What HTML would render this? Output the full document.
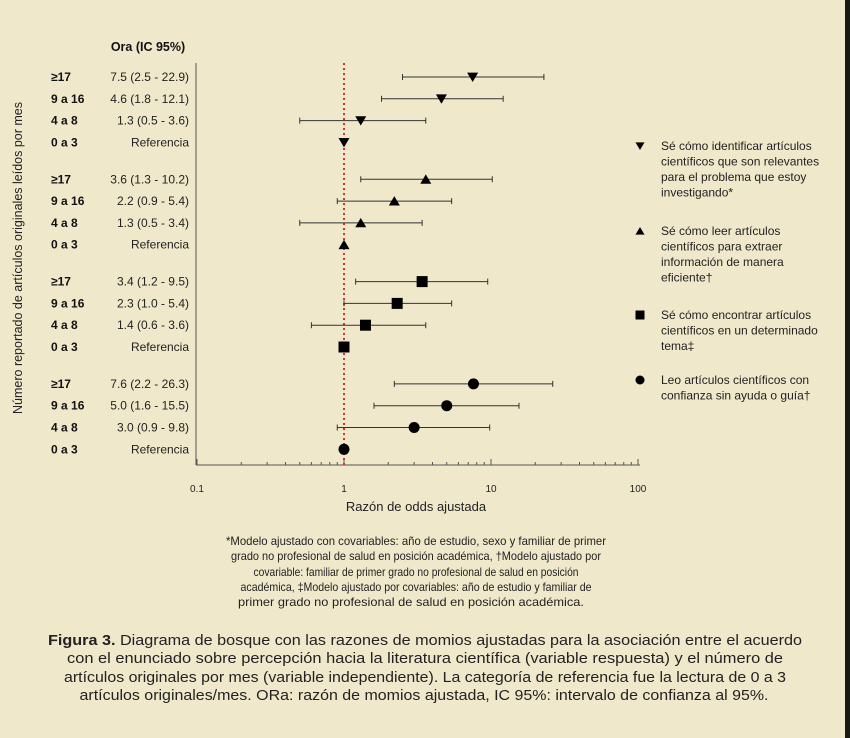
<!DOCTYPE html>
<html><head><meta charset="utf-8">
<style>
html,body{margin:0;padding:0;background:#efe8cb;}
svg{display:block;font-family:"Liberation Sans",Arial,sans-serif;}
</style></head>
<body>
<svg id="chart" width="850" height="738" viewBox="0 0 850 738">
<rect x="0" y="0" width="850" height="738" fill="#efe8cb"/>
<rect x="845" y="0" width="5" height="738" fill="#1a1a14"/>
<text x="148" y="51" font-size="12.5" font-weight="bold" text-anchor="middle" fill="#111">Ora (IC 95%)</text>
<text transform="translate(22,258) rotate(-90)" font-size="12.5" text-anchor="middle" fill="#222">Número reportado de artículos originales leídos por mes</text>
<g id="plot"></g>
<g id="legend"></g>
<g font-size="12" fill="#222" text-anchor="middle">
<text x="416" y="545" textLength="380" lengthAdjust="spacingAndGlyphs">*Modelo ajustado con covariables: año de estudio, sexo y familiar de primer</text>
<text x="416" y="560" textLength="370" lengthAdjust="spacingAndGlyphs">grado no profesional de salud en posición académica, †Modelo ajustado por</text>
<text x="416" y="576" textLength="325" lengthAdjust="spacingAndGlyphs">covariable: familiar de primer grado no profesional de salud en posición</text>
<text x="416" y="591" textLength="351" lengthAdjust="spacingAndGlyphs">académica, ‡Modelo ajustado por covariables: año de estudio y familiar de</text>
<text x="411" y="606" textLength="346" lengthAdjust="spacingAndGlyphs">primer grado no profesional de salud en posición académica.</text>
</g>
<g font-size="14.5" fill="#222" text-anchor="middle">
<text x="425" y="645" textLength="754" lengthAdjust="spacingAndGlyphs"><tspan font-weight="bold">Figura 3.</tspan> Diagrama de bosque con las razones de momios ajustadas para la asociación entre el acuerdo</text>
<text x="425" y="663" textLength="716" lengthAdjust="spacingAndGlyphs">con el enunciado sobre percepción hacia la literatura científica (variable respuesta) y el número de</text>
<text x="425" y="682" textLength="722" lengthAdjust="spacingAndGlyphs">artículos originales por mes (variable independiente). La categoría de referencia fue la lectura de 0 a 3</text>
<text x="424" y="700" textLength="689" lengthAdjust="spacingAndGlyphs">artículos originales/mes. ORa: razón de momios ajustada, IC 95%: intervalo de confianza al 95%.</text>
</g>
</svg>
<script>
const categories = ["≥17","9 a 16","4 a 8","0 a 3"];
const markers = ["tri-down","tri-up","square","circle"];
const orValues = [[7.5,4.6,1.3,1],[3.6,2.2,1.3,1],[3.4,2.3,1.4,1],[7.6,5.0,3.0,1]];
const ciLow = [[2.5,1.8,0.5,null],[1.3,0.9,0.5,null],[1.2,1.0,0.6,null],[2.2,1.6,0.9,null]];
const ciHigh = [[22.9,12.1,3.6,null],[10.2,5.4,3.4,null],[9.5,5.4,3.6,null],[26.3,15.5,9.8,null]];
const ciLabels = [["7.5 (2.5 - 22.9)","4.6 (1.8 - 12.1)","1.3 (0.5 - 3.6)","Referencia"],
 ["3.6 (1.3 - 10.2)","2.2 (0.9 - 5.4)","1.3 (0.5 - 3.4)","Referencia"],
 ["3.4 (1.2 - 9.5)","2.3 (1.0 - 5.4)","1.4 (0.6 - 3.6)","Referencia"],
 ["7.6 (2.2 - 26.3)","5.0 (1.6 - 15.5)","3.0 (0.9 - 9.8)","Referencia"]];
const tickValues = [0.1,1,10,100];
const tickLabels = ["0.1","1","10","100"];
const legendLabels = [["Sé cómo identificar artículos","científicos que son relevantes","para el problema que estoy","investigando*"],
 ["Sé cómo leer artículos","científicos para extraer","información de manera","eficiente†"],
 ["Sé cómo encontrar artículos","científicos en un determinado","tema‡"],
 ["Leo artículos científicos con","confianza sin ayuda o guía†"]];

const NS="http://www.w3.org/2000/svg";
const plot=document.getElementById('plot');
const legend=document.getElementById('legend');
function mk(tag,attrs,parent){const e=document.createElementNS(NS,tag);for(const k in attrs)e.setAttribute(k,attrs[k]);parent.appendChild(e);return e;}
const X0=197, DEC=147, AXY=465;
function xs(v){return X0+Math.log10(v/0.1)*DEC;}
function ys(g,i){return 77+g*102.3+i*21.8;}
function marker(type,x,y,s,parent){
  let e;
  if(type==="tri-down") e=mk('path',{d:`M${x-s} ${y-s*0.8}L${x+s} ${y-s*0.8}L${x} ${y+s*0.9}Z`,fill:'#000'},parent);
  else if(type==="tri-up") e=mk('path',{d:`M${x-s} ${y+s*0.8}L${x+s} ${y+s*0.8}L${x} ${y-s*0.9}Z`,fill:'#000'},parent);
  else if(type==="square") e=mk('rect',{x:x-s,y:y-s,width:2*s,height:2*s,fill:'#000'},parent);
  else e=mk('circle',{cx:x,cy:y,r:s,fill:'#000'},parent);
  return e;
}
// axes
let ya=mk('line',{x1:196,y1:63,x2:196,y2:AXY,stroke:'#555','stroke-width':1},plot);


let xa=mk('line',{x1:196,y1:AXY,x2:640,y2:AXY,stroke:'#555','stroke-width':1},plot);


for(let d=0;d<3;d++){for(let m=2;m<=9;m++){const v=tickValues[d]*m;
  let t=mk('line',{x1:xs(v),y1:AXY,x2:xs(v),y2:AXY-3,stroke:'#555'},plot);
  
  }}
tickValues.forEach((v,i)=>{
  let t=mk('line',{x1:xs(v),y1:AXY,x2:xs(v),y2:AXY-6,stroke:'#555'},plot);
  
  
  let l=mk('text',{x:xs(v),y:492,'font-size':10,'text-anchor':'middle',fill:'#222'},plot);
  l.textContent=tickLabels[i];
  
  
});
let xt=mk('text',{x:416,y:511,'font-size':13,'text-anchor':'middle',fill:'#222'},plot);
xt.textContent="Razón de odds ajustada";


let ref=mk('line',{x1:xs(1),y1:63,x2:xs(1),y2:AXY,stroke:'#d8322a','stroke-width':2,'stroke-dasharray':'2,3'},plot);


for(let g=0;g<4;g++){for(let i=0;i<4;i++){
  const y=ys(g,i);
  let c=mk('text',{x:51,y:y+4,'font-size':12,'font-weight':'bold',fill:'#111'},plot);
  c.textContent=categories[i];
  
  
  let v=mk('text',{x:189,y:y+4,'font-size':12,'text-anchor':'end',fill:'#222'},plot);
  v.textContent=ciLabels[g][i];
  
  
  if(ciLow[g][i]!==null){
    const a=xs(ciLow[g][i]),b=xs(ciHigh[g][i]);
    let ln=mk('path',{d:`M${a} ${y}H${b}M${a} ${y-3}V${y+3}M${b} ${y-3}V${y+3}`,stroke:'#333','stroke-width':1,fill:'none'},plot);
    
    
  }
  let m=marker(markers[g],xs(orValues[g][i]),y,5.5,plot);
  
  
}}
const legY=[146,231,315,380];
legendLabels.forEach((lines,g)=>{
  let m=marker(markers[g],640,legY[g],4.5,legend);
  
  
  lines.forEach((s,j)=>{
    let t=mk('text',{x:661,y:legY[g]+4+j*15.5,'font-size':12,fill:'#222'},legend);
    t.textContent=s;
    
    
  });
});
</script>
</body></html>
